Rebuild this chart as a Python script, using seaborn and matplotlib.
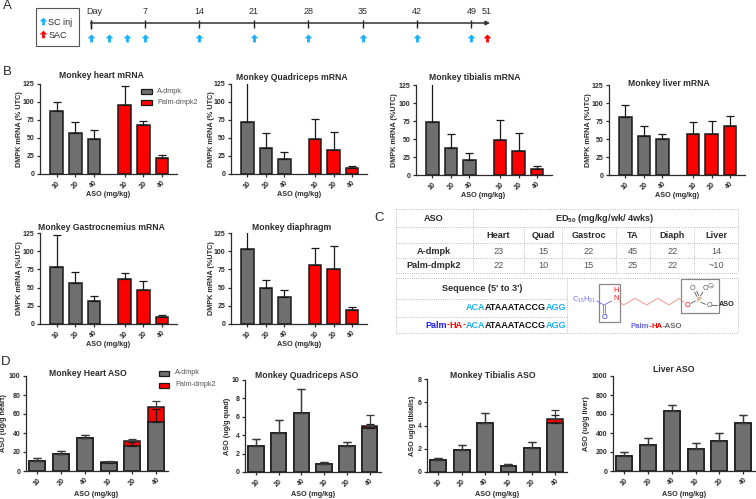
#!/usr/bin/env python3
import pandas as pd
import seaborn as sns
import matplotlib.pyplot as plt
from matplotlib.patches import Rectangle

# Panel B mRNA, bar heights and tops of the error bars
doses = ['10', '20', '40', '10', '20', '40']
compounds = ['A-dmpk'] * 3 + ['Palm-dmpk2'] * 3

heart_mrna = [87, 57, 49, 96, 68, 22]
heart_mrna_top = [99.5, 72, 61, 122, 73, 27]
quad_mrna = [72.5, 36.5, 21.5, 48, 34, 8]
quad_mrna_top = [130, 57, 31, 76, 59, 11.5]
tib_mrna = [73, 37, 21, 48, 34, 8]
tib_mrna_top = [130, 57, 31, 77, 59, 12]
liver_mrna = [81, 54, 50, 57, 57, 68]
liver_mrna_top = [97, 68, 57, 73, 75, 82]
gastroc_mrna = [78, 56, 31, 62, 47, 10]
gastroc_mrna_top = [122, 71, 38, 70, 59, 12.5]
diaph_mrna = [103, 50, 37, 81, 75, 19]
diaph_mrna_top = [130, 61, 47, 105, 107, 23]

# Panel D ASO, grey part, red stack total, tops of the error bars
heart_aso = [11, 18, 35, 8, 26, 52]
heart_aso_total = [11, 18, 35, 10, 32, 67]
heart_aso_top = [13.5, 21, 37.5, 10, 31, 65]
heart_aso_top2 = [13.5, 21, 37.5, 10.5, 34, 73.5]
quad_aso = [2.8, 4.2, 6.4, 0.9, 2.85, 4.75]
quad_aso_total = [2.8, 4.2, 6.4, 0.9, 2.85, 5.05]
quad_aso_top = [3.6, 5.6, 9, 1.1, 3.3, 5.25]
quad_aso_top2 = [3.6, 5.6, 9, 1.1, 3.3, 6.25]
tib_aso = [1.0, 1.9, 4.2, 0.55, 2.1, 4.2]
tib_aso_total = [1.0, 1.9, 4.2, 0.55, 2.1, 4.55]
tib_aso_top = [1.2, 2.3, 5.1, 0.65, 2.55, 4.9]
tib_aso_top2 = [1.2, 2.3, 5.1, 0.65, 2.55, 5.3]
liver_aso = [160, 275, 630, 235, 320, 510]
liver_aso_top = [195, 350, 700, 295, 400, 585]

# Panel A
label_days = [7, 14, 21, 28, 35, 42, 49, 51]
tick_days = [0, 7, 14, 21, 28, 35, 42, 49]
inj_days = [0, 2.33, 4.67, 7, 14, 21, 28, 35, 42, 49]
sac_days = [51]

# Panel C
organs = ['Heart', 'Quad', 'Gastroc', 'TA', 'Diaph', 'Liver']
ed50_a = ['23', '15', '22', '45', '22', '14']
ed50_palm = ['22', '10', '15', '25', '22', '~10']

W, H = 756, 499
GREY = '#6f6f6f'
RED = '#ff0000'
DARK = '#2b2b2b'
CYAN = '#1ab0f5'
BLUE = '#1f1ff0'
LILAC = '#6a6af0'

sns.set_theme(style='ticks')
plt.rcParams['font.family'] = ['Liberation Sans', 'DejaVu Sans']
plt.rcParams['mathtext.default'] = 'regular'
plt.rcParams['axes.edgecolor'] = DARK
plt.rcParams['text.color'] = DARK

fig = plt.figure(figsize=(W / 100, H / 100), dpi=100)


def new_axes(x0, x1, top, bottom):
    return fig.add_axes([x0 / W, 1 - bottom / H, (x1 - x0) / W, (bottom - top) / H])


def finish_axes(ax, box, title, title_xy, ylabel, ylabel_x, xlabel_xy, ymax, yticks, xpos, xlim):
    x0, x1, top, bottom = box
    ax.set_xlim(*xlim)
    ax.set_ylim(0, ymax)
    ax.set_yticks(yticks)
    ax.set_xticks(xpos)
    ax.set_xticklabels(doses, rotation=45, ha='center')
    ax.tick_params(labelsize=5, length=2.5, width=0.9, pad=1.5, colors=DARK)
    for lab in ax.get_xticklabels() + ax.get_yticklabels():
        lab.set_fontweight('bold')
    for side in ['top', 'right']:
        ax.spines[side].set_visible(False)
    for side in ['left', 'bottom']:
        ax.spines[side].set_linewidth(0.9)
    ax.set_xlabel('')
    ax.set_ylabel('')
    fig.text(title_xy[0] / W, 1 - title_xy[1] / H, title, fontsize=6.2, fontweight='bold', ha='center', va='center')
    fig.text(xlabel_xy[0] / W, 1 - xlabel_xy[1] / H, 'ASO (mg/kg)', fontsize=5.2, fontweight='bold', ha='center', va='center')
    fig.text(ylabel_x / W, 1 - (top + bottom) / 2 / H, ylabel, fontsize=5.2, fontweight='bold', rotation=90, ha='center', va='center')


def upper_err(ax, xpos, vals, tops, color='#1a1a1a', lw=0.9):
    ax.errorbar(xpos, vals, yerr=[[0] * len(vals), [t - v for v, t in zip(vals, tops)]],
                fmt='none', ecolor=color, elinewidth=lw, capsize=2.6, capthick=lw, zorder=5)


def mrna_panel(box, vals, tops, title, title_xy, ylabel, ylabel_x, xlabel_xy):
    ax = new_axes(*box)
    # gap between the two compounds is a bit more than one and a half bars
    xpos = [0, 1, 2, 3.65, 4.65, 5.65]
    df = pd.DataFrame({'pos': xpos, 'val': vals, 'compound': compounds})
    sns.barplot(data=df, x='pos', y='val', hue='compound', native_scale=True, dodge=False,
                palette={'A-dmpk': GREY, 'Palm-dmpk2': RED}, width=0.68, saturation=1,
                edgecolor='#1a1a1a', linewidth=1.1, errorbar=None, legend=False, ax=ax)
    upper_err(ax, xpos, vals, tops)
    finish_axes(ax, box, title, title_xy, ylabel, ylabel_x, xlabel_xy, 125,
                [0, 25, 50, 75, 100, 125], xpos, (-0.89, 6.46))
    return ax


def aso_panel(box, vals, totals, tops, tops2, title, title_xy, ylabel, ylabel_x, xlabel_xy, ymax, yticks):
    ax = new_axes(*box)
    xpos = list(range(6))
    df = pd.DataFrame({'pos': xpos, 'val': vals, 'total': totals})
    sns.barplot(data=df, x='pos', y='total', native_scale=True, color=RED, width=0.68, saturation=1,
                edgecolor='#1a1a1a', linewidth=1.1, errorbar=None, ax=ax)
    sns.barplot(data=df, x='pos', y='val', native_scale=True, color=GREY, width=0.68, saturation=1,
                edgecolor='#1a1a1a', linewidth=1.1, errorbar=None, ax=ax)
    upper_err(ax, xpos, vals, tops)
    upper_err(ax, xpos, totals, tops2, color='#3a3a3a')
    finish_axes(ax, box, title, title_xy, ylabel, ylabel_x, xlabel_xy, ymax, yticks, xpos, (-0.48, 5.5))
    return ax


# Panel B
mrna_panel((40, 177, 84, 174), heart_mrna, heart_mrna_top, 'Monkey heart mRNA', (101.5, 76), 'DMPK mRNA (% UTC)', 20, (108, 194))
mrna_panel((231, 367, 84, 174), quad_mrna, quad_mrna_top, 'Monkey Quadriceps mRNA', (292, 78), 'DMPK mRNA (% UTC)', 211, (299, 194))
mrna_panel((416, 552, 85, 175), tib_mrna, tib_mrna_top, 'Monkey tibialis mRNA', (475, 78), 'DMPK mRNA (%UTC)', 395, (483, 195))
mrna_panel((609, 745, 85, 175), liver_mrna, liver_mrna_top, 'Monkey liver mRNA', (669, 83), 'DMPK mRNA (%UTC)', 588, (677, 195))
mrna_panel((40, 177, 233, 324), gastroc_mrna, gastroc_mrna_top, 'Monkey Gastrocnemius mRNA', (101, 227), 'DMPK mRNA (%UTC)', 20, (108, 344))
mrna_panel((231, 367, 233, 324), diaph_mrna, diaph_mrna_top, 'Monkey diaphragm', (292, 228), 'DMPK mRNA (%UTC)', 211, (299, 344))

# Panel D
aso_panel((26, 168, 376, 471), heart_aso, heart_aso_total, heart_aso_top, heart_aso_top2, 'Monkey Heart ASO', (88, 374),
          'ASO (ug/g heart)', 4, (96, 494), 100, [0, 20, 40, 60, 80, 100])
aso_panel((245, 381, 380, 472), quad_aso, quad_aso_total, quad_aso_top, quad_aso_top2, 'Monkey Quadriceps ASO', (307, 375),
          'ASO (ug/g quad)', 227, (313, 494), 10, [0, 2, 4, 6, 8, 10])
aso_panel((427, 567, 379, 472), tib_aso, tib_aso_total, tib_aso_top, tib_aso_top2, 'Monkey Tibialis ASO', (493, 376),
          'ASO ug/g tibialis)', 413, (497, 494), 8, [0, 2, 4, 6, 8])
aso_panel((613, 755, 376, 471), liver_aso, liver_aso, liver_aso_top, liver_aso_top, 'Liver ASO', (674, 370),
          'ASO (ug/g liver)', 587, (684, 494), 1000, [0, 200, 400, 600, 800, 1000])

# Overlay in picture pixels for the panel A box, legends, table and structure
ov = fig.add_axes([0, 0, 1, 1], zorder=10)
ov.set_xlim(0, W)
ov.set_ylim(H, 0)
ov.axis('off')

for letter, x, y in [('A', 7, 6), ('B', 7, 72), ('C', 379, 218), ('D', 6, 362)]:
    ov.text(x, y, letter, fontsize=9.5, ha='center', va='center')

# legends
for y, col, name in [(91, GREY, 'A-dmpk'), (102, RED, 'Palm-dmpk2')]:
    ov.add_patch(Rectangle((141, y - 2.5), 11, 5, fc=col, ec='#1a1a1a', lw=0.9))
    ov.text(157, y, name, fontsize=5.2, color='#555555', va='center')
for y, col, name in [(373, GREY, 'A-dmpk'), (385, RED, 'Palm-dmpk2')]:
    ov.add_patch(Rectangle((158.5, y - 2.5), 10.5, 5, fc=col, ec='#1a1a1a', lw=0.9))
    ov.text(175, y, name, fontsize=5.2, color='#555555', va='center')

# Panel A timeline
up_arrow = [(-0.18, -0.5), (0.18, -0.5), (0.18, 0.02), (0.5, 0.02), (0, 0.5), (-0.5, 0.02), (-0.18, 0.02)]
PER_DAY = 7.77
tl = new_axes(80, 500, 5, 50)
tl.set_xlim(-10.7 / PER_DAY, 409.3 / PER_DAY)
tl.set_ylim(50, 5)
tl.axis('off')
tl.annotate('', xy=(51.4, 23), xytext=(0, 23), arrowprops=dict(arrowstyle='-|>', color='#333333', lw=1.1, mutation_scale=6, shrinkA=0, shrinkB=0))
tl.vlines(tick_days, 20, 28, color='#222222', lw=1.0)
tl.vlines([0], 20, 29, color='#222222', lw=1.0)
tl.scatter(inj_days, [37.5] * len(inj_days), marker=up_arrow, s=32, color=CYAN, linewidths=0)
tl.scatter(sac_days, [37.5] * len(sac_days), marker=up_arrow, s=32, color=RED, linewidths=0)
tl.text(0.5, 12, 'Day', fontsize=6.5, ha='center', va='center')
for d in label_days:
    tl.text(d, 11.5, str(d), fontsize=6.5, ha='center', va='center')

ov.add_patch(Rectangle((36, 7.5), 42.5, 38, fc='white', ec='#555555', lw=0.8))
ov.scatter([42.5], [21], marker=up_arrow, s=30, color=CYAN, linewidths=0)
ov.scatter([42.5], [34], marker=up_arrow, s=30, color=RED, linewidths=0)
ov.text(48, 22.5, 'SC inj', fontsize=6.5, va='center')
ov.text(49, 35, 'SAC', fontsize=6.5, va='center')

# Panel C table
LINE = dict(color='#a8a8a8', lw=0.6, ls=':')
tx0, tx1 = 395.7, 737.7
for y in [209, 227.3, 243.3, 258.3, 273.3]:
    ov.plot([tx0, tx1], [y, y], **LINE)
ov.plot([tx0, tx0], [209, 273.3], **LINE)
ov.plot([tx1, tx1], [209, 273.3], **LINE)
ov.plot([472.7, 472.7], [209, 273.3], **LINE)
for x in [524.3, 562.3, 616, 650.3, 694.3]:
    ov.plot([x, x], [227.3, 273.3], **LINE)
for y in [277.7, 333.3]:
    ov.plot([tx0, tx1], [y, y], **LINE)
for y in [299, 316.7]:
    ov.plot([tx0, 566.7], [y, y], **LINE)
for x in [tx0, 566.7, tx1]:
    ov.plot([x, x], [277.7, 333.3], **LINE)

ov.text(434, 218.5, 'ASO', fontsize=6.6, fontweight='bold', ha='center', va='center')
ov.text(605, 218.5, 'ED$_{50}$ (mg/kg/wk/ 4wks)', fontsize=6.6, fontweight='bold', ha='center', va='center')
col_x = [498.3, 543.3, 588.7, 633, 672.3, 716]
for x, org, a, p in zip(col_x, organs, ed50_a, ed50_palm):
    ov.text(x, 236, org, fontsize=6.6, fontweight='bold', ha='center', va='center')
    ov.text(x, 251.3, a, fontsize=6.6, color='#555555', ha='center', va='center')
    ov.text(x, 266, p, fontsize=6.6, color='#555555', ha='center', va='center')
ov.text(434, 251.3, 'A-dmpk', fontsize=6.6, fontweight='bold', ha='center', va='center')
ov.text(434, 266, 'Palm-dmpk2', fontsize=6.6, fontweight='bold', ha='center', va='center')
ov.text(482, 288.7, "Sequence (5' to 3')", fontsize=6.6, fontweight='bold', ha='center', va='center')


def chain_right(x, y, parts, fontsize=6.5):
    # parts are placed from the right edge, each one ends where the next begins
    renderer = fig.canvas.get_renderer()
    inv = ov.transData.inverted()
    for word, col in reversed(parts):
        t = ov.text(x, y, word, fontsize=fontsize, fontweight='bold', color=col, ha='right', va='center')
        box = t.get_window_extent(renderer)
        x = inv.transform((box.x0, box.y0))[0]


chain_right(566.7, 307.7, [('ACA', CYAN), ('ATAAATACCG', '#111111'), ('AGG', CYAN)])
chain_right(566.7, 325, [('Palm', BLUE), ('-', RED), ('HA', RED), ('-', RED), ('ACA', CYAN), ('ATAAATACCG', '#111111'), ('AGG', CYAN)])


# structure, written in the coordinates of the zoomed crop
def zx(v):
    return 365 + v / 3


def zy(v):
    return 200 + v / 3


def bond(xs, ys, col, lw=0.6):
    ov.plot([zx(v) for v in xs], [zy(v) for v in ys], color=col, lw=lw)


ov.add_patch(Rectangle((zx(703), zy(253)), 62 / 3, 113 / 3, fc='none', ec='#888888', lw=0.9))
ov.add_patch(Rectangle((zx(947), zy(238)), 115 / 3, 100 / 3, fc='none', ec='#888888', lw=0.9))
ov.text(zx(657), zy(300), 'C$_{15}$H$_{31}$', fontsize=5.2, color=LILAC, ha='center', va='center')
bond([695, 717, 740], [303, 315, 303], LILAC)
bond([714, 714], [315, 340], LILAC)
bond([720, 720], [315, 340], LILAC)
ov.text(zx(718), zy(352), 'O', fontsize=5.2, color=BLUE, ha='center', va='center')
ov.text(zx(752), zy(297), 'N', fontsize=5.2, color=RED, ha='center', va='center')
ov.text(zx(752), zy(273), 'H', fontsize=5.2, color=RED, ha='center', va='center')
bond([762, 775, 810, 845, 878, 912, 942, 957], [304, 315, 295, 315, 295, 315, 295, 307], '#f58a7a')
ov.text(zx(968), zy(316), 'O', fontsize=5.2, color=RED, ha='center', va='center')
bond([978, 991], [310, 303], '#555555')
ov.text(zx(1000), zy(300), 'P', fontsize=5.2, color='#b06a20', ha='center', va='center')
ov.text(zx(982), zy(265), 'O', fontsize=5.2, color='#555555', ha='center', va='center')
ov.text(zx(1020), zy(265), 'O', fontsize=5.2, color='#555555', ha='center', va='center')
ov.text(zx(1038), zy(257), '\u2212', fontsize=4, color='#555555', ha='center', va='center')
ov.scatter([zx(1038)], [zy(257)], s=11, fc='none', ec='#777777', lw=0.4)
bond([995, 989], [289, 276], '#555555')
bond([1001, 995], [287, 274], '#555555')
bond([1006, 1014], [288, 276], '#555555')
bond([1008, 1022], [307, 313], '#555555')
ov.text(zx(1032), zy(316), 'O', fontsize=5.2, color='#555555', ha='center', va='center')
bond([1042, 1056], [316, 316], '#555555')
ov.text(zx(1085), zy(314), 'ASO', fontsize=5.2, fontweight='bold', color='#222222', ha='center', va='center')
chain_right(zx(952), zy(380), [('Palm', LILAC), ('-', RED), ('HA', RED), ('-ASO', '#666666')], fontsize=5.6)

fig.savefig('out.png', dpi=100)
